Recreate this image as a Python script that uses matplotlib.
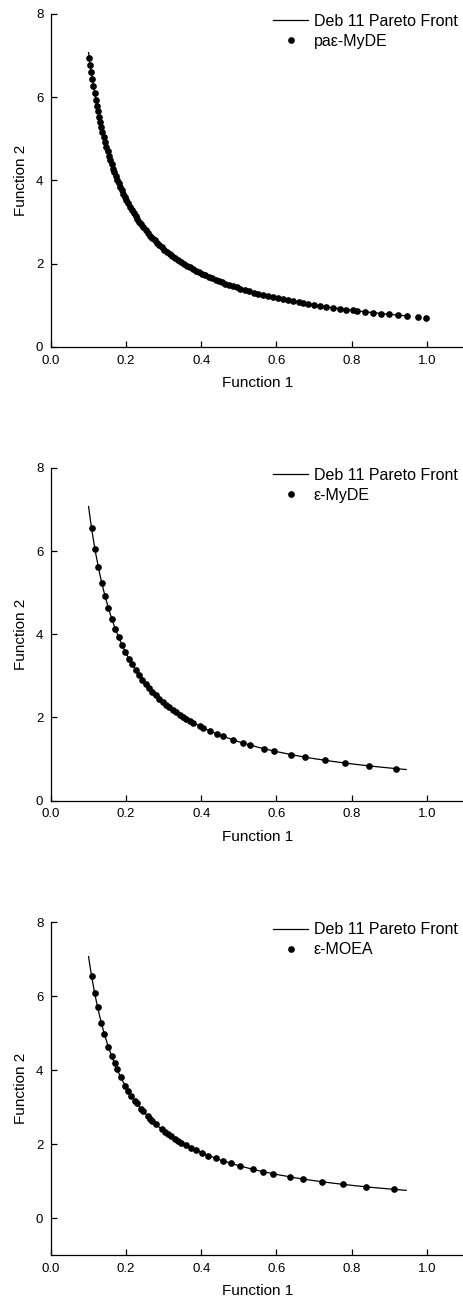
import matplotlib

matplotlib.use("Agg")
import matplotlib.pyplot as plt
from matplotlib.ticker import FormatStrFormatter

plt.rcParams["font.family"] = ["Liberation Sans", "DejaVu Sans"]

# Deb 11 Pareto front
front_f1 = [0.100, 0.105, 0.110, 0.115, 0.120, 0.130, 0.140, 0.150, 0.160, 0.170,
            0.180, 0.190, 0.200, 0.220, 0.240, 0.260, 0.280, 0.300, 0.330, 0.360,
            0.400, 0.450, 0.500, 0.550, 0.600, 0.650, 0.700, 0.750, 0.800, 0.850,
            0.900, 0.945]
front_f2 = [7.071, 6.734, 6.428, 6.149, 5.893, 5.439, 5.051, 4.714, 4.419, 4.159,
            3.928, 3.722, 3.536, 3.214, 2.946, 2.720, 2.525, 2.357, 2.143, 1.964,
            1.768, 1.571, 1.414, 1.286, 1.179, 1.088, 1.010, 0.943, 0.884, 0.832,
            0.786, 0.748]

# pa-eps-MyDE solutions
pae_f1 = [0.102, 0.1045, 0.107, 0.110, 0.113, 0.116, 0.119, 0.122, 0.125, 0.128,
          0.131, 0.134, 0.137, 0.140, 0.1435, 0.147, 0.1505, 0.154, 0.1575, 0.161,
          0.165, 0.168, 0.172, 0.176, 0.180, 0.184, 0.188, 0.192, 0.196, 0.200,
          0.205, 0.210, 0.215, 0.220, 0.225, 0.230, 0.235, 0.240, 0.246, 0.252,
          0.258, 0.264, 0.270, 0.276, 0.282, 0.288, 0.295, 0.302, 0.309, 0.316,
          0.323, 0.330, 0.338, 0.346, 0.354, 0.362, 0.370, 0.378, 0.386, 0.394,
          0.402, 0.411, 0.420, 0.429, 0.438, 0.447, 0.456, 0.464, 0.473, 0.483,
          0.494, 0.504, 0.516, 0.527, 0.540, 0.551, 0.565, 0.578, 0.591, 0.604,
          0.618, 0.631, 0.644, 0.659, 0.671, 0.685, 0.700, 0.717, 0.733, 0.751,
          0.769, 0.786, 0.804, 0.813, 0.835, 0.857, 0.879, 0.900, 0.924, 0.946,
          0.977, 0.999]
pae_f2 = [6.932, 6.767, 6.608, 6.428, 6.258, 6.096, 5.942, 5.796, 5.657, 5.524,
          5.398, 5.277, 5.161, 5.051, 4.927, 4.810, 4.698, 4.592, 4.490, 4.392,
          4.285, 4.209, 4.111, 4.018, 3.928, 3.843, 3.761, 3.683, 3.608, 3.536,
          3.449, 3.367, 3.289, 3.214, 3.143, 3.074, 3.009, 2.946, 2.874, 2.806,
          2.741, 2.678, 2.619, 2.562, 2.507, 2.455, 2.397, 2.341, 2.288, 2.238,
          2.189, 2.143, 2.092, 2.044, 1.997, 1.953, 1.911, 1.871, 1.832, 1.795,
          1.759, 1.720, 1.684, 1.648, 1.614, 1.582, 1.551, 1.524, 1.495, 1.464,
          1.431, 1.403, 1.370, 1.342, 1.309, 1.283, 1.252, 1.223, 1.196, 1.171,
          1.144, 1.121, 1.098, 1.073, 1.054, 1.032, 1.010, 0.986, 0.965, 0.942,
          0.919, 0.900, 0.879, 0.870, 0.847, 0.825, 0.804, 0.786, 0.765, 0.747,
          0.724, 0.708]

# eps-MyDE solutions
emyde_f1 = [0.108, 0.117, 0.126, 0.135, 0.144, 0.153, 0.162, 0.171, 0.180, 0.189,
            0.198, 0.207, 0.216, 0.225, 0.234, 0.243, 0.252, 0.261, 0.270, 0.279,
            0.288, 0.297, 0.306, 0.315, 0.324, 0.333, 0.342, 0.351, 0.360, 0.369,
            0.378, 0.396, 0.405, 0.423, 0.441, 0.458, 0.485, 0.511, 0.529, 0.567,
            0.594, 0.638, 0.676, 0.729, 0.782, 0.846, 0.917]
emyde_f2 = [6.547, 6.044, 5.612, 5.238, 4.910, 4.622, 4.365, 4.135, 3.928, 3.741,
            3.571, 3.416, 3.274, 3.143, 3.022, 2.910, 2.806, 2.709, 2.619, 2.534,
            2.455, 2.381, 2.311, 2.245, 2.182, 2.123, 2.068, 2.015, 1.964, 1.916,
            1.871, 1.786, 1.746, 1.672, 1.603, 1.544, 1.458, 1.384, 1.337, 1.247,
            1.190, 1.108, 1.046, 0.970, 0.904, 0.836, 0.771]

# eps-MOEA solutions
emoea_f1 = [0.108, 0.116, 0.124, 0.134, 0.142, 0.153, 0.161, 0.169, 0.176, 0.186,
            0.198, 0.205, 0.214, 0.223, 0.228, 0.240, 0.244, 0.257, 0.264, 0.269,
            0.279, 0.295, 0.303, 0.312, 0.320, 0.329, 0.338, 0.347, 0.360, 0.372,
            0.385, 0.403, 0.419, 0.438, 0.458, 0.478, 0.503, 0.538, 0.563, 0.591,
            0.635, 0.670, 0.722, 0.778, 0.839, 0.912]
emoea_f2 = [6.547, 6.096, 5.702, 5.277, 4.980, 4.622, 4.392, 4.184, 4.018, 3.802,
            3.571, 3.449, 3.304, 3.171, 3.101, 2.946, 2.898, 2.751, 2.678, 2.629,
            2.534, 2.397, 2.334, 2.266, 2.210, 2.149, 2.092, 2.038, 1.964, 1.901,
            1.837, 1.755, 1.688, 1.614, 1.544, 1.479, 1.406, 1.314, 1.256, 1.196,
            1.114, 1.055, 0.979, 0.909, 0.843, 0.775]

x_ticks = [0.0, 0.2, 0.4, 0.6, 0.8, 1.0]
y_ticks = [0, 2, 4, 6, 8]


def draw_panel(fig, rect, f1, f2, label, ylim):
    ax = fig.add_axes(rect)
    ax.plot(front_f1, front_f2, color="black", lw=0.9, label="Deb 11 Pareto Front")
    ax.plot(f1, f2, "o", color="black", ms=3.8, ls="none", label=label)

    ax.set_xlim(0, 1.1)
    ax.set_ylim(*ylim)
    ax.set_xticks(x_ticks)
    ax.set_yticks(y_ticks)
    ax.xaxis.set_major_formatter(FormatStrFormatter("%.1f"))
    ax.tick_params(direction="in", length=4.5, width=0.9, labelsize=9.5, pad=5.5)
    for side in ("top", "right"):
        ax.spines[side].set_visible(False)
    for side in ("left", "bottom"):
        ax.spines[side].set_linewidth(0.9)

    ax.set_xlabel("Function 1", fontsize=11, labelpad=7)
    ax.set_ylabel("Function 2", fontsize=11, labelpad=6)
    ax.legend(loc="upper right", bbox_to_anchor=(0.984, 1.0), frameon=False,
              fontsize=11.5, handlelength=2.2, handletextpad=0.35, labelspacing=0.3,
              borderpad=0, borderaxespad=0, numpoints=1)
    return ax


fig = plt.figure(figsize=(4.64, 13.04), dpi=100)
draw_panel(fig, [0.1099, 0.7339, 0.891, 0.2554], pae_f1, pae_f2, "paε-MyDE", (0, 8))
draw_panel(fig, [0.1099, 0.3860, 0.891, 0.2552], emyde_f1, emyde_f2, "ε-MyDE", (0, 8))
draw_panel(fig, [0.1099, 0.0376, 0.891, 0.2551], emoea_f1, emoea_f2, "ε-MOEA", (-1, 8))

fig.savefig("out.png", dpi=100)
